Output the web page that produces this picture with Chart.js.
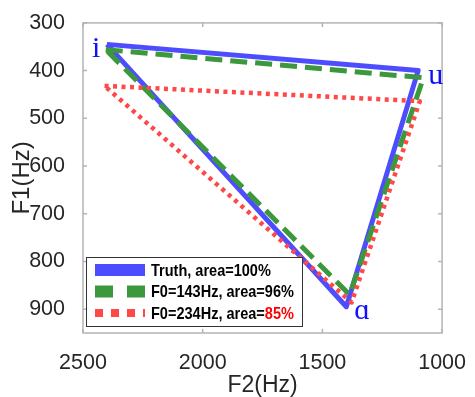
<!DOCTYPE html>
<html><head><meta charset="utf-8">
<script src="https://cdn.jsdelivr.net/npm/chart.js@4/dist/chart.umd.min.js"></script>
<style>html,body{margin:0;padding:0;background:#fff}#wrap{width:475px;height:397px;position:relative}</style>
</head><body><div id="wrap"><canvas id="c" width="475" height="397"></canvas></div>
<script>
// ---- data ----
const vowels = ['i', 'u', 'ɑ'];
const seriesNames = ['Truth', 'F0=143Hz', 'F0=234Hz'];
const seriesAreas = [100, 96, 85];
const truthF2 = [2400, 1100, 1400];
const truthF1 = [345, 400, 895];
const f0143F2 = [2405, 1078, 1386];
const f0143F1 = [356, 415, 870];
const f0234F2 = [2410, 1093, 1378];
const f0234F1 = [432, 464, 886];
const xTicks = [2500, 2000, 1500, 1000];
const yTicks = [300, 400, 500, 600, 700, 800, 900];

function closed(f2, f1) {
  const pts = f2.map((x, i) => ({ x: x, y: f1[i] }));
  pts.push({ x: f2[0], y: f1[0] });
  return pts;
}

const BLUE = 'rgb(77,77,255)', GREEN = 'rgb(60,152,60)', RED = 'rgb(255,72,72)';
const FONT = '"Liberation Sans", Arial, sans-serif';

const decor = {
  id: 'decor',
  afterDatasetsDraw(chart) {
    const ctx = chart.ctx, a = chart.chartArea;
    const xs = chart.scales.x, ys = chart.scales.y;
    ctx.save();
    ctx.strokeStyle = '#b4b4b4';
    ctx.lineWidth = 1.5;
    ctx.strokeRect(a.left, a.top, a.right - a.left, a.bottom - a.top);
    ctx.beginPath();
    xTicks.forEach(v => {
      const px = xs.getPixelForValue(v);
      ctx.moveTo(px, a.bottom); ctx.lineTo(px, a.bottom - 4);
      ctx.moveTo(px, a.top); ctx.lineTo(px, a.top + 4);
    });
    yTicks.forEach(v => {
      const py = ys.getPixelForValue(v);
      ctx.moveTo(a.left, py); ctx.lineTo(a.left + 4, py);
      ctx.moveTo(a.right, py); ctx.lineTo(a.right - 4, py);
    });
    ctx.stroke();
    ctx.fillStyle = '#1010ff';
    ctx.font = '30px "Liberation Serif", "DejaVu Serif", serif';
    ctx.textBaseline = 'alphabetic';
    const offs = [[-15, 13], [10, 13], [8, 12]];
    vowels.forEach((v, i) => {
      const px = xs.getPixelForValue(truthF2[i]), py = ys.getPixelForValue(truthF1[i]);
      ctx.textAlign = 'left';
      ctx.fillText(v, px + offs[i][0], py + offs[i][1]);
    });
    ctx.restore();
  },
  afterDraw(chart) {
    const ctx = chart.ctx;
    ctx.save();
    const bx = 86, by = 257, bw = 216, bh = 69;
    ctx.fillStyle = '#fff';
    ctx.fillRect(bx, by, bw, bh);
    ctx.strokeStyle = '#333';
    ctx.lineWidth = 1;
    ctx.strokeRect(bx + 0.5, by + 0.5, bw, bh);
    const rows = [270, 291.5, 313];
    const styles = [
      { c: BLUE, w: 12, d: [] },
      { c: GREEN, w: 12, d: [18, 14] },
      { c: RED, w: 8, d: [8, 8] }
    ];
    seriesNames.forEach((n, i) => {
      const s = styles[i];
      ctx.beginPath();
      ctx.strokeStyle = s.c;
      ctx.lineWidth = s.w;
      ctx.lineCap = 'butt';
      ctx.setLineDash(s.d);
      ctx.moveTo(95, rows[i]); ctx.lineTo(145, rows[i]);
      ctx.stroke();
      ctx.setLineDash([]);
      ctx.save();
      ctx.translate(151, rows[i] + 1);
      ctx.scale(0.88, 1);
      ctx.font = 'bold 16.5px ' + FONT;
      ctx.textBaseline = 'middle';
      ctx.textAlign = 'left';
      const t1 = n + ', area=';
      const t2 = seriesAreas[i] + '%';
      ctx.fillStyle = '#000';
      ctx.fillText(t1, 0, 0);
      const w1 = ctx.measureText(t1).width;
      ctx.fillStyle = (i === 2) ? '#ff0000' : '#000';
      ctx.fillText(t2, w1, 0);
      ctx.restore();
    });
    ctx.restore();
  }
};

const lineDs = (label, data, color, width, dash, order) => ({
  label, data, showLine: true, fill: false, tension: 0,
  borderColor: color, backgroundColor: color, borderWidth: width,
  borderDash: dash, pointRadius: 0, borderJoinStyle: 'round', borderCapStyle: 'butt', order
});

new Chart(document.getElementById('c'), {
  type: 'scatter',
  data: {
    datasets: [
      lineDs(seriesNames[0], closed(truthF2, truthF1), BLUE, 5, [], 3),
      lineDs(seriesNames[1], closed(f0143F2, f0143F1), GREEN, 5, [17, 8], 2),
      lineDs(seriesNames[2], closed(f0234F2, f0234F1), RED, 4.5, [4, 4.5], 1)
    ]
  },
  options: {
    responsive: false,
    devicePixelRatio: 1,
    animation: false,
    layout: { padding: { top: 22, right: 25, left: 0, bottom: 0 } },
    plugins: { legend: { display: false }, tooltip: { enabled: false } },
    scales: {
      x: {
        type: 'linear', reverse: true, min: 1000, max: 2500,
        afterBuildTicks: s => { s.ticks = xTicks.map(v => ({ value: v })); },
        afterFit: s => { s.height = 64; },
        grid: { display: false }, border: { display: false },
        ticks: { font: { size: 21.5, family: FONT }, color: '#262626', padding: 9, maxRotation: 0, callback: v => String(v) },
        title: { display: true, text: 'F2(Hz)', font: { size: 23, family: FONT, lineHeight: 1 }, color: '#262626', padding: { top: 0, bottom: 0 } }
      },
      y: {
        type: 'linear', reverse: true, min: 300, max: 950,
        afterBuildTicks: s => { s.ticks = yTicks.map(v => ({ value: v })); },
        afterFit: s => { s.width = 83; },
        grid: { display: false }, border: { display: false },
        ticks: { font: { size: 21.5, family: FONT }, color: '#262626', padding: 10, callback: v => String(v) },
        title: { display: true, text: 'F1(Hz)', font: { size: 24, family: FONT, lineHeight: 1 }, color: '#262626', padding: { top: 10, bottom: 0 } }
      }
    }
  },
  plugins: [decor]
});
</script></body></html>
